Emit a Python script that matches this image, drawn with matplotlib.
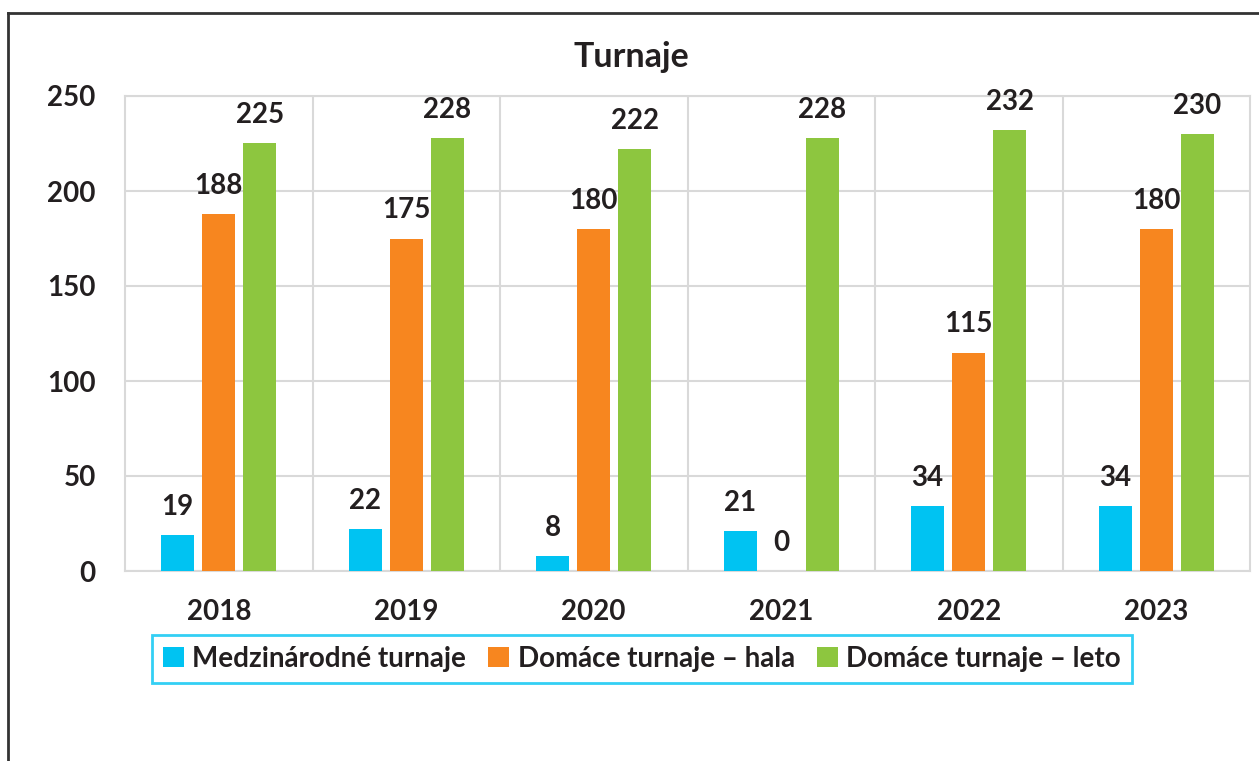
import matplotlib.pyplot as plt
from matplotlib.lines import Line2D
import numpy as np

years = ['2018', '2019', '2020', '2021', '2022', '2023']
medzinarodne = [19, 22, 8, 21, 34, 34]
domace_hala = [188, 175, 180, 0, 115, 180]
domace_leto = [225, 228, 222, 228, 232, 230]

series_names = ['Medzinárodné turnaje', 'Domáce turnaje – hala', 'Domáce turnaje – leto']
colors = ['#00C3F2', '#F7861F', '#8DC63F']

plt.rcParams['font.family'] = ['Lato', 'DejaVu Sans']
plt.rcParams['font.weight'] = 'bold'

fig = plt.figure(figsize=(12.59, 7.61), dpi=100)
ax = fig.add_axes([125/1259, 1-571/761, 1125/1259, 475/761])

x = np.arange(len(years))
width = 0.176
step = 0.219
for i, (vals, name, col) in enumerate(zip([medzinarodne, domace_hala, domace_leto], series_names, colors)):
    pos = x + (i-1)*step
    ax.bar(pos, vals, width, color=col, label=name, zorder=3)
    for p, v in zip(pos, vals):
        ax.annotate(str(v), (p, v), xytext=(0, 14.5), textcoords='offset points',
                    ha='center', va='baseline', fontsize=20, fontweight='bold', color='#231f20')

ax.set_xlim(-0.5, len(years)-0.5)
ax.set_ylim(0, 250)
ax.set_yticks(range(0, 251, 50))
ax.set_xticks(x)
ax.set_xticklabels(years)
ax.set_xticks(x[:-1] + 0.5, minor=True)
ax.grid(True, which='major', axis='y', color='#d9d9d9', lw=1.5, zorder=0)
ax.grid(True, which='minor', axis='x', color='#d9d9d9', lw=1.5, zorder=0)
for s in ax.spines.values():
    s.set_color('#d9d9d9')
    s.set_linewidth(1.5)
ax.tick_params(axis='both', which='both', length=0, labelsize=20, colors='#231f20')
ax.tick_params(axis='y', pad=21)
ax.tick_params(axis='x', pad=20)

fig.text(631/1259, 1-57/761, 'Turnaje', ha='center', va='center', fontsize=24.5,
         fontweight='bold', color='#231f20')

leg = fig.legend(loc='center', bbox_to_anchor=(642/1259, 1-659/761), ncol=3, fontsize=20,
                 frameon=True, fancybox=False, handlelength=0.75, handleheight=0.75,
                 handletextpad=0.3, columnspacing=0.8, borderpad=0.4)
leg.get_frame().set_edgecolor('#00C3F2')
leg.get_frame().set_linewidth(2)
for t in leg.get_texts():
    t.set_color('#231f20')

# outer frame of the cropped chart
fig.add_artist(Line2D([8/1259, 8/1259], [0, 1-13/761], color='#333333', lw=2, transform=fig.transFigure))
fig.add_artist(Line2D([8/1259, 1], [1-13/761, 1-13/761], color='#333333', lw=2, transform=fig.transFigure))

fig.savefig('out.png', dpi=100)
